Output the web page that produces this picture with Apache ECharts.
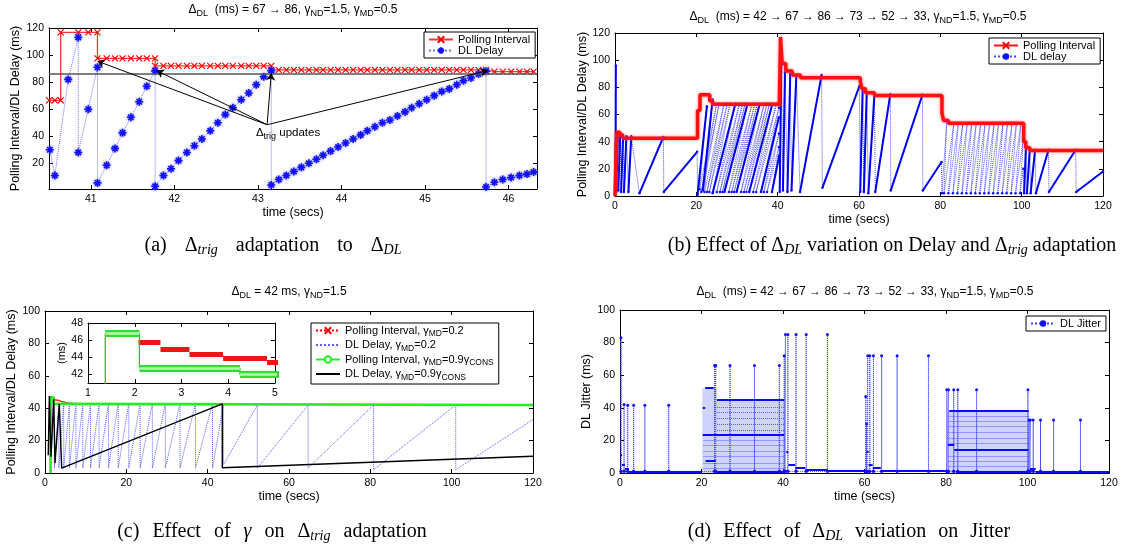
<!DOCTYPE html>
<html>
<head>
<meta charset="utf-8">
<script src="https://cdn.jsdelivr.net/npm/echarts@6/dist/echarts.min.js"></script>
<style>
html, body { margin: 0; padding: 0; background: #fff; }
#main { width: 1126px; height: 552px; }
</style>
</head>
<body>
<div id="main"></div>
<script>
var FONT = 'Liberation Sans, Arial, sans-serif';
var SERIF = 'Liberation Serif, Times New Roman, serif';

// ---------- (a) 67 -> 86 ms, zoom on 40.5 .. 46.3 s ----------
var aPoll = [
  [40.50, 66.5], [40.57, 66.5], [40.64, 66.5],
  [40.64, 116.8], [40.85, 116.8], [40.97, 116.8], [41.08, 116.8],
  [41.08, 97.6], [41.19, 97.6], [41.29, 97.6], [41.38, 97.6], [41.48, 97.6], [41.58, 97.6], [41.67, 97.6], [41.77, 97.6],
  [41.77, 92], [41.87, 92], [41.96, 92], [42.05, 92], [42.15, 92], [42.24, 92], [42.33, 92], [42.43, 92],
  [42.52, 92], [42.61, 92], [42.70, 92], [42.80, 92], [42.89, 92], [42.98, 92], [43.07, 92], [43.16, 92],
  [43.16, 89], [43.25, 89], [43.34, 89], [43.43, 89], [43.52, 89], [43.61, 89], [43.70, 89], [43.78, 89],
  [43.87, 89], [43.96, 89], [44.05, 89], [44.14, 89], [44.23, 89], [44.31, 89], [44.40, 89], [44.49, 89],
  [44.58, 89], [44.67, 89], [44.76, 89], [44.84, 89], [44.93, 89], [45.02, 89], [45.11, 89], [45.20, 89],
  [45.29, 89], [45.38, 89], [45.46, 89], [45.55, 89], [45.64, 89], [45.73, 89],
  [45.73, 87.8], [45.83, 87.8], [45.93, 87.8], [46.03, 87.8], [46.13, 87.8], [46.22, 87.8], [46.30, 87.8]
];
var aDelay = [
  [40.51, 30], [40.57, 11], [40.73, 82], [40.85, 113], [40.85, 28], [40.97, 60],
  [41.08, 91], [41.08, 5.5], [41.19, 18.5], [41.29, 31], [41.38, 42.5], [41.48, 54], [41.58, 65.5], [41.67, 77], [41.77, 88.3],
  [41.77, 3], [41.87, 11], [41.96, 16], [42.05, 22], [42.15, 28], [42.24, 33], [42.33, 38], [42.43, 44],
  [42.52, 50], [42.61, 56], [42.70, 61], [42.80, 67], [42.89, 72], [42.98, 78], [43.07, 84], [43.16, 88.5],
  [43.16, 4], [43.25, 8], [43.34, 11], [43.43, 14], [43.52, 17], [43.61, 20], [43.70, 23], [43.78, 26],
  [43.87, 29], [43.96, 32], [44.05, 35], [44.14, 38], [44.23, 41], [44.31, 44], [44.40, 47], [44.49, 50],
  [44.58, 52], [44.67, 55], [44.76, 58], [44.84, 61], [44.93, 64], [45.02, 67], [45.11, 70], [45.20, 73],
  [45.29, 75], [45.38, 78], [45.46, 81], [45.55, 83], [45.64, 86], [45.73, 88],
  [45.73, 2.5], [45.83, 6], [45.93, 8], [46.03, 9.5], [46.13, 11], [46.22, 12], [46.30, 13.5]
];
var aDeltaDL = 86.5;
var aArrowFrom = [43.11, 48.5];
var aArrowTo = [[41.08, 95.5], [41.79, 88.5], [43.16, 86.5], [45.75, 88.5]];

// ---------- (b) 42 -> 67 -> 86 -> 73 -> 52 -> 33 ----------
var bPollTime = [0, 0.15, 0.3, 0.5, 1.2, 1.7, 2.1, 20.3, 20.9, 23.3, 24.0, 40.4, 40.7, 41.1, 42.0, 43.6, 45.6, 60.3, 60.7, 61.6, 63.8, 80.4, 80.8, 82.0, 100.5, 101.0, 102.0, 120];
var bPollValue = [0, 16, 38, 47, 45.5, 44, 42.5, 63, 74.5, 70, 67.5, 66, 117, 97.5, 92, 89, 87, 85, 79, 76, 74, 61, 55.5, 53.5, 40, 35.5, 33.5, 33.5];
// delay ramps [t0, v0, t1, v1]
var bRamps = [
  [0.1, 5, 0.2, 96], [0.3, 3, 0.7, 46], [0.8, 4, 1.3, 46], [1.5, 3, 2.0, 45], [2.2, 3, 2.8, 44], [3.3, 3, 4.0, 44],
  [6.0, 2, 11.9, 43.5], [12.0, 3, 20.2, 32.5],
  [20.3, 1, 22.6, 66], [21.6, 4, 24.0, 71], [24.0, 2, 29.6, 68], [26.9, 3, 32.6, 68], [29.9, 3, 35.6, 68],
  [33.0, 3, 38.7, 68], [35.9, 3, 40.3, 58], [38.6, 3, 40.4, 30],
  [40.5, 3, 40.9, 96], [41.3, 4, 41.8, 91], [42.4, 3, 43.1, 90], [43.4, 4, 44.6, 89], [45.5, 3, 50.8, 89], [51.0, 6, 60.1, 81],
  [60.3, 3, 60.9, 79], [61.2, 3, 61.9, 76], [62.3, 2, 63.8, 75], [64.0, 3, 67.7, 75], [67.8, 4, 75.6, 74.5], [75.7, 4, 80.3, 25],
  [100.6, 2, 101.1, 40], [101.3, 2, 102.0, 35], [102.2, 2, 103.3, 34], [103.5, 2, 106.6, 34], [106.7, 3, 113.3, 34], [113.4, 3, 120, 18]
];
var bLight = [
  [20.8, 5, 25.0, 68], [21.2, 3, 25.6, 68], [22.0, 3, 26.8, 68], [22.6, 3, 27.6, 68], [23.2, 3, 28.3, 68],
  [25.0, 3, 30.6, 68], [25.8, 3, 31.4, 68], [26.4, 3, 32.0, 68], [28.0, 3, 33.7, 68], [28.7, 3, 34.4, 68],
  [29.3, 3, 35.0, 68], [31.0, 3, 36.7, 68], [31.7, 3, 37.4, 68], [32.3, 3, 38.0, 68], [34.0, 3, 39.7, 68],
  [34.7, 3, 40.3, 65], [36.6, 3, 40.3, 46], [37.4, 3, 40.3, 36]
];
var bLattice = [
  [80.4, 2, 81.6, 56], [80.9, 2, 83.3, 53], [82.0, 2, 84.4, 53], [83.1, 2, 85.5, 53], [84.2, 2, 86.6, 53],
  [85.3, 2, 87.7, 53], [86.4, 2, 88.8, 53], [87.5, 2, 89.9, 53], [88.6, 2, 91.0, 53], [89.7, 2, 92.1, 53],
  [90.8, 2, 93.2, 53], [91.9, 2, 94.3, 53], [93.0, 2, 95.4, 53], [94.1, 2, 96.5, 53], [95.2, 2, 97.6, 53],
  [96.3, 2, 98.7, 53], [97.4, 2, 99.8, 53], [98.5, 2, 100.4, 42], [99.6, 2, 100.4, 20]
];

// ---------- (c) 42 ms, gamma comparison ----------
var cRedSteps = [[1.37, 2.08, 46.75], [2.08, 2.55, 45.75], [2.55, 3.17, 44.95], [3.17, 3.89, 44.27], [3.89, 4.83, 43.8], [4.83, 5.5, 43.35]];
var cRedTail = [[5.5, 43.35], [7, 43.05], [9, 42.85], [11, 42.7], [14, 42.6]];
var cGreenStart = [1.37, 0];
var cGreenSteps = [[1.37, 2.1, 46.75], [2.1, 4.25, 42.7], [4.25, 120, 41.95]];
var cBlack = [[0.8, 11], [1.07, 47.5], [1.48, 10], [2.13, 45.5], [2.46, 6], [3.52, 42.5], [4.1, 3], [43.6, 42.7], [43.6, 3.2], [120, 10.3]];
var cBlue = [
  [1.3, 3], [2.3, 44], [2.3, 3], [3.4, 43], [3.4, 3], [4.6, 43], [4.6, 3], [6.0, 43], [6.0, 3], [7.6, 43], [7.6, 3],
  [9.3, 43], [9.3, 3], [11.2, 43], [11.2, 3], [13.3, 43], [13.3, 3], [15.6, 43], [15.6, 3], [18.0, 43], [18.0, 3],
  [20.6, 43], [20.6, 3], [23.4, 43], [23.4, 3], [26.4, 43], [26.4, 3], [29.6, 43], [29.6, 3], [33.2, 43], [33.2, 3],
  [37.0, 43], [37.0, 3], [41.2, 43], [41.2, 3], [43.9, 43], [43.9, 5], [52.2, 42], [52.2, 3], [64.7, 42], [64.7, 3],
  [80.8, 42], [80.8, 2], [101.0, 42], [101.0, 2], [120, 33]
];

// ---------- (d) jitter ----------
var dBaseline = 1;
var dSpikes = [
  [0.25, 83], [1.0, 42], [1.9, 41.5], [3.35, 41.5], [6.1, 41.5], [11.95, 41.5],
  [23.2, 66], [23.5, 66], [27.0, 66], [33.0, 66], [39.1, 66],
  [40.3, 72], [40.6, 85], [41.2, 85], [43.2, 85], [45.7, 85], [50.9, 85],
  [60.3, 47], [60.5, 30], [60.8, 72], [61.3, 72], [62.2, 72], [64.2, 72], [68.0, 72], [75.7, 72],
  [80.2, 51], [80.6, 51], [81.9, 51], [82.9, 51], [87.5, 51], [100.1, 51],
  [100.4, 32.5], [100.7, 32.5], [101.4, 32.5], [103.2, 32.5], [106.4, 32.5], [113.0, 32.5]
];
var dRows = [
  [0.2, 0.5, 11], [0.5, 1.2, 5], [1.2, 2.2, 2.5], [2.2, 20.0, 1.0],
  [20.3, 20.9, 40], [20.9, 23.0, 52], [21.0, 23.5, 7.5], [20.3, 40.3, 23.2], [23.8, 40.3, 44.8], [23.8, 40.3, 0.8],
  [40.8, 41.3, 13], [41.3, 43.0, 5], [43.0, 45.5, 3], [45.5, 51.0, 2], [51.0, 60.0, 1.2],
  [60.5, 61.0, 13], [61.0, 62.0, 5], [62.0, 64.0, 3], [64.0, 80.0, 1.2],
  [80.8, 100.3, 38.2], [80.5, 82.0, 17.5], [82.0, 100.2, 14.5], [82.5, 100.3, 1.0],
  [100.6, 102.0, 2.5], [102.0, 120.0, 1.0]
];
var dTexture = [
  [20.5, 40.3, 3], [20.5, 40.3, 6], [20.5, 40.3, 10], [20.5, 40.3, 13.5], [20.5, 40.3, 17], [20.5, 40.3, 20],
  [23.8, 40.3, 26.5], [23.8, 40.3, 30], [23.8, 40.3, 33.5], [23.8, 40.3, 37], [23.8, 40.3, 40.5],
  [80.6, 100.4, 4], [80.6, 100.4, 7], [80.6, 100.4, 10], [80.6, 100.4, 18], [80.6, 100.4, 21.5],
  [80.6, 100.4, 25], [80.6, 100.4, 28.5], [80.6, 100.4, 32], [80.6, 100.4, 35]
];
var dBands = [[20.2, 23.8, 0, 52], [23.8, 40.3, 0, 45], [80.5, 100.4, 0, 38]];

// ---------- helpers ----------
function rt(s) { return '{n|' + s.replace(/_\{([^}]*)\}/g, '}{s|$1}{n|') + '}'; }
function segments(list) { // [t0,t1,v] -> horizontal line segments
  return list.map(function (r) { return { coords: [[r[0], r[2]], [r[1], r[2]]] }; });
}
function rampSegs(list) {
  return list.map(function (r) { return { coords: [[r[0], r[1]], [r[2], r[3]]] }; });
}
function stepPoints(start, steps) {
  var pts = start ? [start] : [];
  steps.forEach(function (s) { pts.push([s[0], s[2]]); pts.push([s[1], s[2]]); });
  return pts;
}

var symX = 'path://M0,0L10,10M10,0L0,10';
var symStar = 'path://M5,0L5,10M0,5L10,5M1.6,1.6L8.4,8.4M8.4,1.6L1.6,8.4';

var grids = [], xAxes = [], yAxes = [];
function axis(o, gi, pos, main) {
  var a = {
    type: 'value', gridIndex: gi, position: pos, min: o.min, max: o.max,
    axisLine: { show: true, onZero: false, lineStyle: { color: '#000', width: 1 } },
    axisTick: { show: true, inside: true, length: 4, lineStyle: { color: '#000' } },
    axisLabel: { show: main, color: '#000', fontFamily: FONT, fontSize: 10.5, margin: 5 },
    splitLine: { show: false }
  };
  if (o.ticks) { a.axisTick.customValues = o.ticks; a.axisLabel.customValues = o.ticks; }
  else { a.interval = o.interval; }
  if (main && o.name) {
    a.name = o.name; a.nameLocation = 'middle'; a.nameGap = o.gap;
    a.nameTextStyle = { color: '#000', fontFamily: FONT, fontSize: o.nameSize || 12.5 };
  }
  return a;
}
function panel(box, xo, yo) {
  var gi = grids.length;
  grids.push({ left: box[0], top: box[1], width: box[2], height: box[3], show: true, backgroundColor: '#fff', borderWidth: 0 });
  var xi = xAxes.length, yi = yAxes.length;
  xAxes.push(axis(xo, gi, 'bottom', true)); xAxes.push(axis(xo, gi, 'top', false));
  yAxes.push(axis(yo, gi, 'left', true)); yAxes.push(axis(yo, gi, 'right', false));
  return { xAxisIndex: xi, yAxisIndex: yi };
}

var YLAB = 'Polling Interval/DL Delay (ms)';
var pA = panel([49, 28, 488, 161],
  { min: 40.5, max: 46.34, ticks: [41, 42, 43, 44, 45, 46], name: 'time (secs)', gap: 17 },
  { min: 1, max: 120, ticks: [20, 40, 60, 80, 100, 120], name: YLAB, gap: 27 });
var pB = panel([615, 33, 488, 163],
  { min: 0, max: 120, interval: 20, name: 'time (secs)', gap: 10 },
  { min: 0, max: 120, interval: 20, name: YLAB, gap: 24 });
var pC = panel([45, 311, 488, 162],
  { min: 0, max: 120, interval: 20, name: 'time (secs)', gap: 17 },
  { min: 0, max: 100, interval: 20, name: YLAB, gap: 27 });
var pI = panel([88, 323, 187, 60],
  { min: 1, max: 5, interval: 1 },
  { min: 40.94, max: 48, ticks: [42, 44, 46, 48], name: '(ms)', gap: 19, nameSize: 11 });
var pD = panel([620, 310, 489, 163],
  { min: 0, max: 120, interval: 20, name: 'time (secs)', gap: 17 },
  { min: 0, max: 100, interval: 20, name: 'DL Jitter (ms)', gap: 27 });

function on(p, s) { s.xAxisIndex = p.xAxisIndex; s.yAxisIndex = p.yAxisIndex; return s; }

var bAll = bRamps.concat(bLight, bLattice).sort(function (a, b) { return a[0] - b[0]; });
var bDelayPts = [];
bAll.forEach(function (r) { bDelayPts.push([r[0], r[1]]); bDelayPts.push([r[2], r[3]]); });

var dJitterPts = [];
dSpikes.forEach(function (s) { dJitterPts.push([s[0], dBaseline]); dJitterPts.push([s[0], s[1]]); dJitterPts.push([s[0], dBaseline]); });

var cRedMain = stepPoints(null, cRedSteps).concat(cRedTail);
var cGreenPts = stepPoints(cGreenStart, cGreenSteps);

var series = [
  // (a)
  on(pA, { name: 'a-poll', type: 'line', data: aPoll, z: 3,
    lineStyle: { color: '#ff3535', width: 1.3 }, symbol: symX, symbolSize: 6,
    itemStyle: { color: '#ff0000', borderColor: '#ff0000', borderWidth: 1.2 },
    markLine: { silent: true, symbol: 'none', label: { show: false }, animation: false,
      lineStyle: { color: '#555', width: 1.6, type: 'solid' }, data: [{ yAxis: aDeltaDL }] } }),
  on(pA, { name: 'a-delay', type: 'line', data: aDelay, z: 4,
    lineStyle: { color: '#7070ff', width: 1, type: 'dotted' }, symbol: symStar, symbolSize: 8,
    itemStyle: { color: '#1010ff', borderColor: '#1010ff', borderWidth: 1.6, shadowBlur: 3, shadowColor: 'rgba(110,110,255,0.8)' },
    markLine: { silent: true, symbol: ['none', 'arrow'], symbolSize: 7, label: { show: false }, animation: false,
      lineStyle: { color: '#000', width: 1, type: 'solid' },
      data: aArrowTo.map(function (p) { return [{ coord: aArrowFrom }, { coord: p }]; }) },
    markPoint: { silent: true, symbol: 'circle', symbolSize: 1, itemStyle: { color: 'rgba(0,0,0,0)' },
      data: [{ coord: [42.97, 42.5], label: { show: true, position: 'right', distance: 0, color: '#000',
        formatter: rt('Δ_{trig} updates'),
        rich: { n: { fontSize: 11.5, fontFamily: FONT, color: '#000' }, s: { fontSize: 9, fontFamily: FONT, color: '#000', padding: [8, 0, 0, 0] } } } }] } }),
  // (b)
  on(pB, { name: 'b-ramp', type: 'lines', coordinateSystem: 'cartesian2d', data: rampSegs(bRamps), z: 3,
    lineStyle: { color: '#0000f0', width: 2, opacity: 1 } }),
  on(pB, { name: 'b-delay', type: 'line', data: bDelayPts, z: 2,
    lineStyle: { color: '#4a4aff', width: 1, type: 'dotted' }, symbol: 'circle', symbolSize: 2.5,
    itemStyle: { color: '#1010ff' } }),
  on(pB, { name: 'b-poll', type: 'line', step: 'end', z: 4,
    data: bPollTime.map(function (t, i) { return [t, bPollValue[i]]; }),
    lineStyle: { color: '#ff1010', width: 3.5, shadowBlur: 3, shadowColor: 'rgba(255,60,60,0.7)' },
    symbol: symX, symbolSize: 5, showSymbol: false,
    itemStyle: { color: '#ff0000', borderColor: '#ff0000', borderWidth: 1.2 } }),
  // (c)
  on(pC, { name: 'c-blue', type: 'line', data: cBlue, z: 2,
    lineStyle: { color: '#5a5aff', width: 1, type: 'dotted' }, symbol: 'none', itemStyle: { color: '#5a5aff' } }),
  on(pC, { name: 'c-red', type: 'line', data: cRedMain, z: 3,
    lineStyle: { color: '#ff0000', width: 1.2 }, symbol: symX, symbolSize: 6, showSymbol: false,
    itemStyle: { color: '#ff0000', borderColor: '#ff0000', borderWidth: 1.2 } }),
  on(pC, { name: 'c-green', type: 'line', data: cGreenPts, z: 3,
    lineStyle: { color: '#22ee22', width: 2.6 }, symbol: 'emptyCircle', symbolSize: 7, showSymbol: false,
    itemStyle: { color: '#22ee22', borderColor: '#22ee22', borderWidth: 1.2 } }),
  on(pC, { name: 'c-black', type: 'line', data: cBlack, z: 4,
    lineStyle: { color: '#000', width: 1.4 }, symbol: 'none', itemStyle: { color: '#000' } }),
  // (c) inset
  on(pI, { name: 'i-red', type: 'lines', coordinateSystem: 'cartesian2d', data: segments(cRedSteps), z: 3,
    lineStyle: { color: '#ee1515', width: 5, opacity: 1 } }),
  on(pI, { name: 'i-green-line', type: 'line', data: cGreenPts, z: 4,
    lineStyle: { color: '#10d010', width: 1.3 }, symbol: 'none' }),
  on(pI, { name: 'i-green', type: 'lines', coordinateSystem: 'cartesian2d', data: segments(cGreenSteps), z: 5,
    lineStyle: { color: '#30dd30', width: 7, opacity: 1 } }),
  on(pI, { name: 'i-green-in', type: 'lines', coordinateSystem: 'cartesian2d', data: segments(cGreenSteps), z: 6,
    lineStyle: { color: '#b0ffb0', width: 2.5, opacity: 1 } }),
  // (d)
  on(pD, { name: 'd-texture', type: 'lines', coordinateSystem: 'cartesian2d', data: segments(dTexture), z: 2,
    lineStyle: { color: '#5a5aff', width: 1, type: 'dotted', opacity: 1 } }),
  on(pD, { name: 'd-jitter', type: 'line', data: dJitterPts, z: 3,
    lineStyle: { color: '#4040ff', width: 1, type: 'dotted' }, symbol: 'circle', symbolSize: 3,
    itemStyle: { color: '#1010ff' },
    markArea: { silent: true, itemStyle: { color: 'rgba(95,110,255,0.3)' },
      data: dBands.map(function (b) { return [{ coord: [b[0], b[2]] }, { coord: [b[1], b[3]] }]; }) } }),
  on(pD, { name: 'd-rows', type: 'lines', coordinateSystem: 'cartesian2d', data: segments(dRows), z: 4,
    lineStyle: { color: '#0a0aff', width: 2, opacity: 1 } })
];

var LEG = {
  'a-poll': rt('Polling Interval'), 'a-delay': rt('DL Delay'),
  'b-poll': rt('Polling Interval'), 'b-delay': rt('DL delay'),
  'c-red': rt('Polling Interval, γ_{MD}=0.2'), 'c-blue': rt('DL Delay, γ_{MD}=0.2'),
  'c-green': rt('Polling Interval, γ_{MD}=0.9γ_{CONS}'), 'c-black': rt('DL Delay, γ_{MD}=0.9γ_{CONS}'),
  'd-jitter': rt('DL Jitter')
};
var legRich = {
  n: { fontSize: 11, fontFamily: FONT, color: '#000' },
  s: { fontSize: 8.5, fontFamily: FONT, color: '#000', padding: [7, 0, 0, 0] }
};
function legend(left, top, items, gap) {
  return {
    orient: 'vertical', left: left, top: top, data: items, selectedMode: false,
    formatter: function (n) { return LEG[n]; },
    itemWidth: 24, itemHeight: 8, itemGap: gap, padding: [2, 5, 2, 4],
    borderColor: '#000', borderWidth: 1, backgroundColor: '#fff',
    textStyle: { fontSize: 11, fontFamily: FONT, color: '#000', rich: legRich }
  };
}

var titleRich = {
  n: { fontSize: 12, fontFamily: FONT, fill: '#000' },
  s: { fontSize: 9, fontFamily: FONT, fill: '#000', padding: [8, 0, 0, 0] }
};
function capRich(gap) {
  return {
    n: { fontSize: 20, fontFamily: SERIF, fill: '#000' },
    i: { fontSize: 20, fontFamily: SERIF, fontStyle: 'italic', fill: '#000' },
    s: { fontSize: 14, fontFamily: SERIF, fontStyle: 'italic', fill: '#000', padding: [9, 0, 0, 0] },
    g: { width: gap }
  };
}
function txt(x, y, text, rich) {
  return { type: 'text', x: x, y: y, silent: true, z: 100,
    style: { text: text, rich: rich, align: 'center', verticalAlign: 'middle', fill: '#000' } };
}
function caption(x, y, parts, gap) { // parts joined by a fixed-width gap token
  return txt(x, y, parts.join('{g| }'), capRich(gap));
}

var option = {
  animation: false,
  backgroundColor: '#fff',
  grid: grids, xAxis: xAxes, yAxis: yAxes, series: series,
  legend: [
    legend(424, 32, ['a-poll', 'a-delay'], 0),
    legend(989, 38, ['b-poll', 'b-delay'], 0),
    legend(311, 323, [{ name: 'c-red', lineStyle: { type: 'dotted' } },
      { name: 'c-blue', itemStyle: { opacity: 0 } }, 'c-green',
      { name: 'c-black', itemStyle: { opacity: 0 } }], 1),
    legend(1026, 316, ['d-jitter'], 0)
  ],
  graphic: [
    txt(293, 10, rt('Δ_{DL}  (ms) = 67 → 86, γ_{ND}=1.5, γ_{MD}=0.5'), titleRich),
    txt(858, 17, rt('Δ_{DL}  (ms) = 42 → 67 → 86 → 73 → 52 → 33, γ_{ND}=1.5, γ_{MD}=0.5'), titleRich),
    txt(289, 292, rt('Δ_{DL} = 42 ms, γ_{ND}=1.5'), titleRich),
    txt(865, 292, rt('Δ_{DL}  (ms) = 42 → 67 → 86 → 73 → 52 → 33, γ_{ND}=1.5, γ_{MD}=0.5'), titleRich),
    caption(273, 246, ['{n|(a)}', '{n|Δ}{s|trig}', '{n|adaptation}', '{n|to}', '{n|Δ}{s|DL}'], 18),
    caption(892, 246, ['{n|(b)}', '{n|Effect}', '{n|of}', '{n|Δ}{s|DL}', '{n|variation}', '{n|on}', '{n|Delay}', '{n|and}', '{n|Δ}{s|trig}', '{n|adaptation}'], 5),
    caption(272, 532, ['{n|(c)}', '{n|Effect}', '{n|of}', '{i|γ}', '{n|on}', '{n|Δ}{s|trig}', '{n|adaptation}'], 13),
    caption(849, 532, ['{n|(d)}', '{n|Effect}', '{n|of}', '{n|Δ}{s|DL}', '{n|variation}', '{n|on}', '{n|Jitter}'], 12)
  ]
};

var chart = echarts.init(document.getElementById('main'));
chart.setOption(option);
</script>
</body>
</html>
